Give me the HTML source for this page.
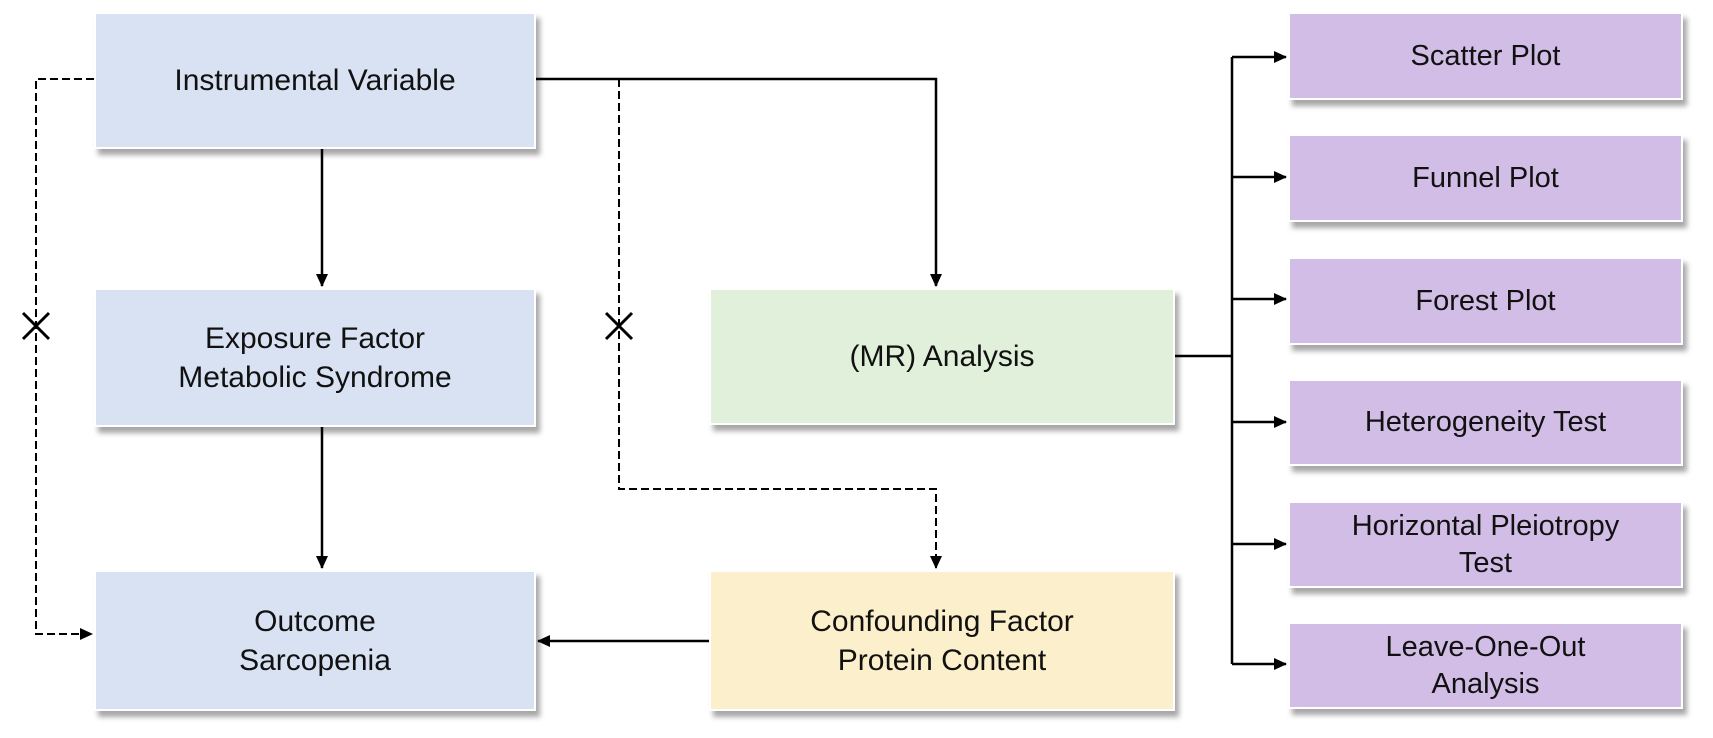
<!DOCTYPE html>
<html><head><style>
body{margin:0;background:#fff;width:1713px;height:738px;position:relative;overflow:hidden;font-family:"Liberation Sans",Arial,sans-serif;}
.b{position:absolute;display:flex;align-items:center;justify-content:center;text-align:center;font-size:30px;line-height:39px;color:#111;box-shadow:4px 6px 5px rgba(0,0,0,0.35);border:2px solid #fff;box-sizing:border-box;}
.blue{background:#d9e2f2}.green{background:#e0f0da}.yel{background:#fcefcb}.pur{background:#d2bde6;font-size:29px;line-height:37px}
svg{position:absolute;left:0;top:0}
</style></head><body>
<svg width="1713" height="738">
<defs><marker id="a" markerWidth="13" markerHeight="12" refX="12" refY="6" orient="auto" markerUnits="userSpaceOnUse"><path d="M0,0 L13,6 L0,12z" fill="#000"/></marker></defs>
<g stroke="#000" stroke-width="2.5" fill="none">
<path d="M536,79 H936 V286" marker-end="url(#a)"/>
<path d="M322,149 V286" marker-end="url(#a)"/>
<path d="M322,427 V568" marker-end="url(#a)"/>
<path d="M709,641 H538" marker-end="url(#a)"/>
<path d="M1175,356 H1232"/>
<path d="M1232,57 V664"/>
<path d="M1232,57 H1286" marker-end="url(#a)"/>
<path d="M1232,177 H1286" marker-end="url(#a)"/>
<path d="M1232,299 H1286" marker-end="url(#a)"/>
<path d="M1232,422 H1286" marker-end="url(#a)"/>
<path d="M1232,544 H1286" marker-end="url(#a)"/>
<path d="M1232,664 H1286" marker-end="url(#a)"/>
</g>
<g stroke="#000" stroke-width="2" fill="none" stroke-dasharray="8,4">
<path d="M94,79 H36 V634 H92" marker-end="url(#a)"/>
<path d="M619,79 V489 H936 V568" marker-end="url(#a)"/>
</g>
<g stroke="#000" stroke-width="3">
<path d="M23,313 L49,339 M49,313 L23,339"/>
<path d="M606,313 L632,339 M632,313 L606,339"/>
</g>
</svg>
<div class="b blue" style="left:94px;top:12px;width:442px;height:137px">Instrumental Variable</div>
<div class="b blue" style="left:94px;top:288px;width:442px;height:139px">Exposure Factor<br>Metabolic Syndrome</div>
<div class="b blue" style="left:94px;top:570px;width:442px;height:141px">Outcome<br>Sarcopenia</div>
<div class="b green" style="left:709px;top:288px;width:466px;height:137px">(MR) Analysis</div>
<div class="b yel" style="left:709px;top:570px;width:466px;height:141px">Confounding Factor<br>Protein Content</div>
<div class="b pur" style="left:1288px;top:12px;width:395px;height:88px">Scatter Plot</div>
<div class="b pur" style="left:1288px;top:134px;width:395px;height:88px">Funnel Plot</div>
<div class="b pur" style="left:1288px;top:257px;width:395px;height:88px">Forest Plot</div>
<div class="b pur" style="left:1288px;top:379px;width:395px;height:87px">Heterogeneity Test</div>
<div class="b pur" style="left:1288px;top:501px;width:395px;height:87px">Horizontal Pleiotropy<br>Test</div>
<div class="b pur" style="left:1288px;top:622px;width:395px;height:87px">Leave-One-Out<br>Analysis</div>
</body></html>
